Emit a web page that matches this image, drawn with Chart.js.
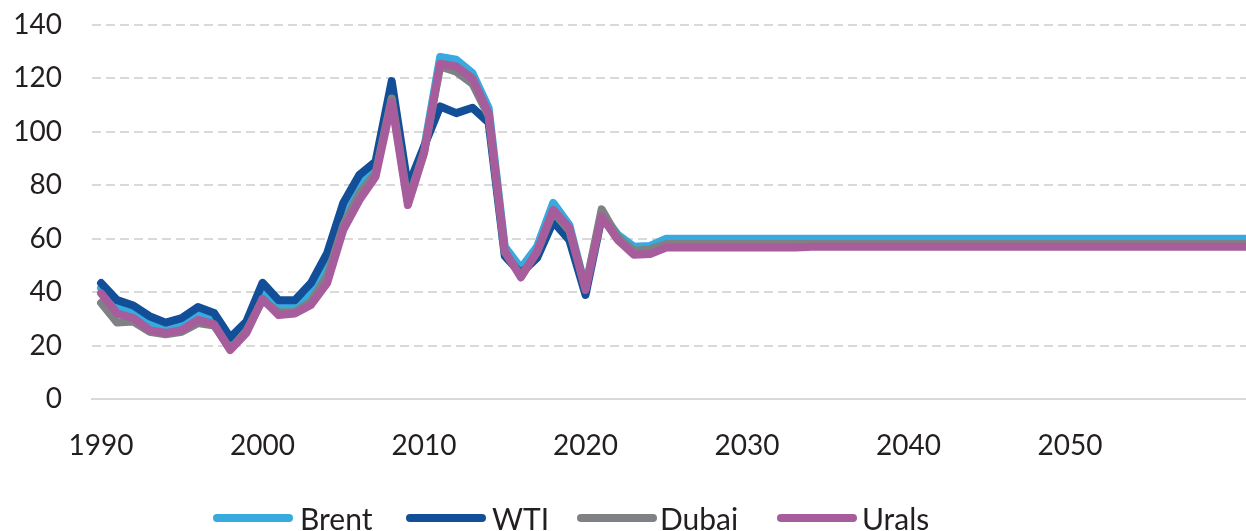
<!DOCTYPE html>
<html>
<head>
<meta charset="utf-8">
<script src="https://cdn.jsdelivr.net/npm/chart.js@4.4.1/dist/chart.umd.min.js"></script>
<style>
  html, body { margin: 0; padding: 0; background: #ffffff; overflow: hidden; }
  #wrap { position: relative; width: 1246px; height: 531px; }
  #c { position: absolute; left: 0; top: 0; }
  #legend { position: absolute; left: 0; top: 500px; width: 1246px; height: 36px;
            font-family: Lato, "Open Sans", sans-serif; font-size: 30px; color: #231f20; white-space: nowrap; }
  .sym { position: absolute; top: 14px; width: 80px; height: 8px; border-radius: 4px; }
  .txt { position: absolute; top: 0; line-height: 36px; }
</style>
</head>
<body>
<div id="wrap">
  <canvas id="c" width="1246" height="531"></canvas>
  <div id="legend"></div>
</div>
<script>
const years = [1990,1991,1992,1993,1994,1995,1996,1997,1998,1999,
  2000,2001,2002,2003,2004,2005,2006,2007,2008,2009,
  2010,2011,2012,2013,2014,2015,2016,2017,2018,2019,
  2020,2021,2022,2023,2024,2025,2026,2027,2028,2029,
  2030,2031,2032,2033,2034,2035,2036,2037,2038,2039,
  2040,2041,2042,2043,2044,2045,2046,2047,2048,2049,
  2050,2051,2052,2053,2054,2055,2056,2057,2058,2059,
  2060,2061];

const brent = [41.5,34.5,32.5,28,26.3,27.3,31.5,29.5,19.8,26.5,
  40,34.5,34,39,50,69,80.5,86.5,114,76,
  93.5,128,127,122,109,57,49,57,73.4,65.1,
  41.5,69.5,61.5,57,57.3,60,60,60,60,60,
  60,60,60,60,60,60,60,60,60,60,
  60,60,60,60,60,60,60,60,60,60,
  60,60,60,60,60,60,60,60,60,60,
  60,60];

const wti = [43.4,37,35,31,28.6,30.3,34.4,32.2,23,29,
  43.5,37,37,43.4,54.6,73.4,83.9,88.9,119,79.5,
  94.5,109.5,107,109,103.5,53.5,47,52.8,66.4,59.5,
  39,68,60.5,55,55.5,57.5,57.5,57.5,57.5,57.5,
  57.5,57.5,57.5,57.5,57.5,57.5,57.5,57.5,57.5,57.5,
  57.5,57.5,57.5,57.5,57.5,57.5,57.5,57.5,57.5,57.5,
  57.5,57.5,57.5,57.5,57.5,57.5,57.5,57.5,57.5,57.5,
  57.5,57.5];

const dubai = [36,28.6,29,25.2,24.2,25.2,28.4,27.5,18.6,25.5,
  37,32.5,32.5,36.5,46,65,77,84.5,112.5,74,
  92.5,124.5,122.5,118,106,55,46,55,70,63,
  41.5,71,60.5,55.5,56,58,58,58,58,58,
  58,58,58,58,58,58,58,58,58,58,
  58,58,58,58,58,58,58,58,58,58,
  58,58,58,58,58,58,58,58,58,58,
  58,58];

const urals = [39.6,32,30.3,25.8,24.7,25.8,29.6,28,18.3,24.7,
  37.5,31.4,32,35.2,43.4,63.3,74.5,83.2,111,72.6,
  92,125.5,124.5,120,107,55.5,45.5,55.2,70.8,64,
  40.8,68.3,59.5,54,54.3,56.7,56.7,56.7,56.7,56.7,
  56.7,56.7,56.7,56.7,57,57,57,57,57,57,
  57,57,57,57,57,57,57,57,57,57,
  57,57,57,57,57,57,57,57,57,57,
  57,57];

const seriesNames = ['Brent', 'WTI', 'Dubai', 'Urals'];
const seriesColors = ['#37aade', '#134f98', '#808184', '#a75c9b'];
const xTickYears = [1990, 2000, 2010, 2020, 2030, 2040, 2050];
const xTickLabels = ['1990', '2000', '2010', '2020', '2030', '2040', '2050'];
const yTicks = [0, 20, 40, 60, 80, 100, 120, 140];

const seriesValues = [brent, wti, dubai, urals];
const FONT = 'Lato, "Open Sans", sans-serif';

const datasets = seriesValues.map((vals, i) => ({
  label: seriesNames[i],
  data: years.map((yr, j) => ({ x: yr, y: vals[j] })),
  borderColor: seriesColors[i],
  backgroundColor: seriesColors[i],
  borderWidth: 8,
  pointRadius: 0,
  pointHoverRadius: 0,
  tension: 0,
  fill: false,
  borderJoinStyle: 'round',
  borderCapStyle: 'round',
  order: 3 - i
}));

new Chart(document.getElementById('c'), {
  type: 'line',
  data: { datasets },
  options: {
    responsive: false,
    animation: false,
    devicePixelRatio: 1,
    events: [],
    layout: { padding: { left: 13, right: 0, top: 25, bottom: 70 } },
    plugins: { legend: { display: false }, tooltip: { enabled: false } },
    scales: {
      x: {
        type: 'linear',
        min: 1989.44,
        max: 2060.9,
        afterBuildTicks: (scale) => { scale.ticks = xTickYears.map(v => ({ value: v })); },
        afterFit: (s) => { s.height = 62; s.paddingLeft = 0; s.paddingRight = 0; },
        ticks: {
          autoSkip: false,
          maxRotation: 0,
          padding: 30,
          color: '#231f20',
          font: { family: FONT, size: 28 },
          callback: (v) => { const k = xTickYears.indexOf(v); return k >= 0 ? xTickLabels[k] : ''; }
        },
        grid: { display: false, drawTicks: false },
        border: { display: true, color: '#d9d9d9', width: 2 }
      },
      y: {
        min: 0,
        max: 140,
        afterBuildTicks: (scale) => { scale.ticks = yTicks.map(v => ({ value: v })); },
        afterFit: (s) => { s.width = 79; s.paddingTop = 0; s.paddingBottom = 0; },
        ticks: {
          padding: 30,
          color: '#231f20',
          font: { family: FONT, size: 28 }
        },
        grid: {
          drawTicks: false,
          lineWidth: 2,
          color: (ctx) => (ctx.tick && ctx.tick.value === 0) ? 'rgba(0,0,0,0)' : '#d9d9d9'
        },
        border: { display: false, dash: [9, 5] }
      }
    }
  }
});

// legend layout (pixel positions of each entry's swatch and label)
const legendSymLeft = [213, 406, 577, 777];
const legendTxtLeft = [300, 492, 660, 862];
const legend = document.getElementById('legend');
seriesNames.forEach((name, i) => {
  const sym = document.createElement('div');
  sym.className = 'sym';
  sym.style.background = seriesColors[i];
  sym.style.left = legendSymLeft[i] + 'px';
  const txt = document.createElement('span');
  txt.className = 'txt';
  txt.style.left = legendTxtLeft[i] + 'px';
  txt.textContent = name;
  legend.appendChild(sym);
  legend.appendChild(txt);
});
</script>
</body>
</html>
